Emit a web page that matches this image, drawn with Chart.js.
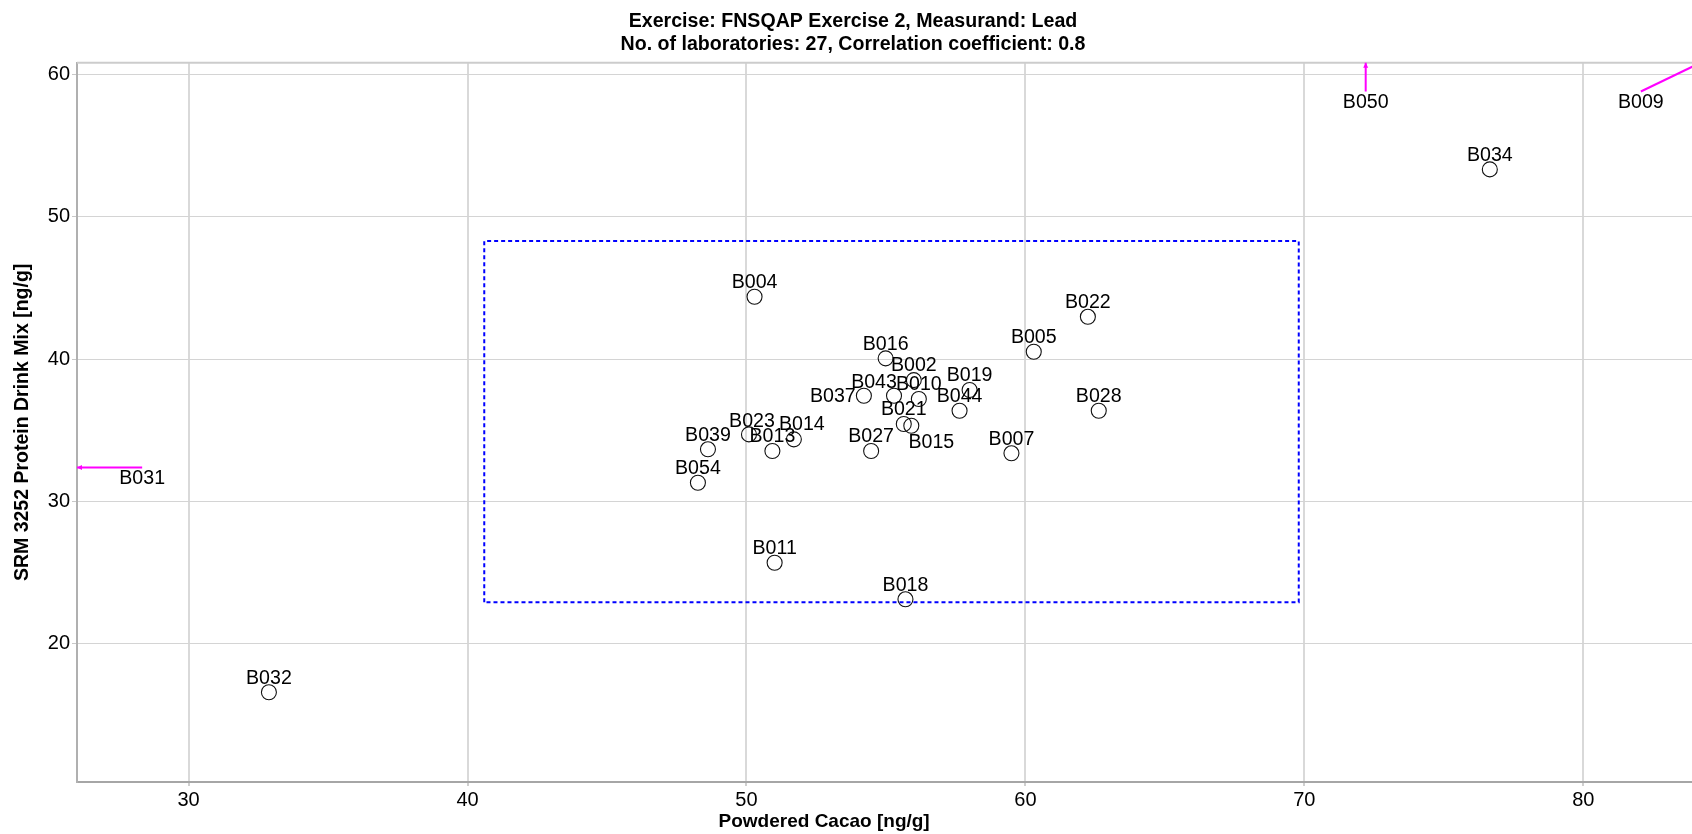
<!DOCTYPE html>
<html>
<head>
<meta charset="utf-8">
<title>FNSQAP Exercise 2 – Lead</title>
<script src="https://cdn.jsdelivr.net/npm/chart.js@4/dist/chart.umd.min.js"></script>
<style>
  html, body { margin: 0; padding: 0; overflow: hidden; background: #fff; }
  #wrap { width: 1706px; height: 834px; }
</style>
</head>
<body>
<div id="wrap"><canvas id="chart" width="1706" height="834"></canvas></div>
<script>
// Laboratory results: Powdered Cacao vs. SRM 3252 Protein Drink Mix (ng/g)
const labs = ['B002','B004','B005','B007','B009','B010','B011','B013','B014','B015','B016','B018','B019','B021',
              'B022','B023','B027','B028','B031','B032','B034','B037','B039','B043','B044','B050','B054'];
const cacao = [56.0, 50.29, 60.3, 59.5, 96.0, 56.18, 51.01, 50.93, 51.7, 55.91, 54.99, 55.7, 58.0, 55.64,
               62.24, 50.09, 54.47, 62.63, 12.5, 32.88, 76.65, 54.21, 48.62, 55.29, 57.64, 72.2, 48.26];
const protein = [38.52, 44.38, 40.51, 33.37, 72.0, 37.19, 25.67, 33.53, 34.35, 35.31, 40.05, 23.1, 37.82, 35.43,
                 42.97, 34.7, 33.53, 36.36, 32.37, 16.56, 53.34, 37.42, 33.65, 37.42, 36.36, 78.0, 31.3];

// Acceptance region (dashed rectangle), traced corner by corner
const boxCacao = [40.6, 40.6, 69.8, 69.8, 40.6];
const boxProtein = [22.9, 48.3, 48.3, 22.9, 22.9];

// Axis ticks
const xTickValues = [30, 40, 50, 60, 70, 80];
const yTickValues = [20, 30, 40, 50, 60];

const titleLines = ['Exercise: FNSQAP Exercise 2, Measurand: Lead',
                    'No. of laboratories: 27, Correlation coefficient: 0.8'];
const xTitle = 'Powdered Cacao [ng/g]';
const yTitle = 'SRM 3252 Protein Drink Mix [ng/g]';

// Visible axis window
const X_MIN = 26.0, X_MAX = 84.4;
const Y_MIN = 10.25, Y_MAX = 60.84;
// Off-scale results are pinned this fraction inside the window and get an arrow
const EDGE_INSET = 0.04;

const FONT = '"Liberation Sans", Arial, sans-serif';
// Label offsets (px from the marker centre) where the default spot above would collide
const labelNudge = { B015: [20, 17], B043: [-20, -13], B037: [-31, 1], B014: [8, -15], B023: [3, -13] };
const DEFAULT_NUDGE = [0, -14];

const inWindow = (x, y) => x >= X_MIN && x <= X_MAX && y >= Y_MIN && y <= Y_MAX;

const points = [];
labs.forEach((lab, i) => {
  if (inWindow(cacao[i], protein[i])) points.push({ x: cacao[i], y: protein[i], lab });
});
const boxPoints = boxCacao.map((x, i) => ({ x, y: boxProtein[i] }));

// Thin frame line along the top of the plot area
const topFrame = {
  id: 'topFrame',
  beforeDatasetsDraw(chart) {
    const { ctx, chartArea: a } = chart;
    ctx.save();
    ctx.strokeStyle = '#cccccc';
    ctx.lineWidth = 2;
    ctx.beginPath();
    ctx.moveTo(a.left, a.top);
    ctx.lineTo(a.right, a.top);
    ctx.stroke();
    ctx.restore();
  }
};

// Lab codes next to markers, plus arrows for results outside the window
const labLabels = {
  id: 'labLabels',
  afterDatasetsDraw(chart) {
    const { ctx, chartArea: a } = chart;
    const xs = chart.scales.x, ys = chart.scales.y;
    ctx.save();
    ctx.font = '19.6px ' + FONT;
    ctx.textAlign = 'center';
    ctx.textBaseline = 'middle';
    labs.forEach((lab, i) => {
      const x = cacao[i], y = protein[i];
      if (inWindow(x, y)) {
        const n = labelNudge[lab] || DEFAULT_NUDGE;
        ctx.fillStyle = '#000';
        ctx.fillText(lab, xs.getPixelForValue(x) + n[0], ys.getPixelForValue(y) + n[1]);
        return;
      }
      const mx = (X_MAX - X_MIN) * EDGE_INSET, my = (Y_MAX - Y_MIN) * EDGE_INSET;
      const cx = x < X_MIN ? X_MIN + mx : (x > X_MAX ? X_MAX - mx : x);
      const cy = y < Y_MIN ? Y_MIN + my : (y > Y_MAX ? Y_MAX - my : y);
      const p0x = xs.getPixelForValue(cx), p0y = ys.getPixelForValue(cy);
      const dx = xs.getPixelForValue(x) - p0x, dy = ys.getPixelForValue(y) - p0y;
      let t = Infinity;
      if (dx < 0) t = Math.min(t, (a.left - p0x) / dx);
      if (dx > 0) t = Math.min(t, (a.right - p0x) / dx);
      if (dy < 0) t = Math.min(t, (a.top - p0y) / dy);
      if (dy > 0) t = Math.min(t, (a.bottom - p0y) / dy);
      const ex = p0x + t * dx, ey = p0y + t * dy;
      const ang = Math.atan2(dy, dx);
      ctx.strokeStyle = '#ff00ff';
      ctx.fillStyle = '#ff00ff';
      ctx.lineWidth = 2;
      ctx.beginPath();
      ctx.moveTo(p0x, p0y);
      ctx.lineTo(ex, ey);
      ctx.stroke();
      const hl = 5, hw = 2.5;
      ctx.beginPath();
      ctx.moveTo(ex, ey);
      ctx.lineTo(ex - hl * Math.cos(ang) + hw * Math.sin(ang), ey - hl * Math.sin(ang) - hw * Math.cos(ang));
      ctx.lineTo(ex - hl * Math.cos(ang) - hw * Math.sin(ang), ey - hl * Math.sin(ang) + hw * Math.cos(ang));
      ctx.closePath();
      ctx.fill();
      ctx.fillStyle = '#000';
      ctx.fillText(lab, p0x, p0y + 11);
    });
    ctx.restore();
  }
};

// X axis title, centred under the span from the axis origin to the last tick
const xAxisTitle = {
  id: 'xAxisTitle',
  afterDraw(chart) {
    const { ctx, chartArea: a } = chart;
    const xs = chart.scales.x;
    const cx = (a.left + xs.getPixelForValue(xTickValues[xTickValues.length - 1])) / 2 - 6;
    ctx.save();
    ctx.font = 'bold 19px ' + FONT;
    ctx.fillStyle = '#000';
    ctx.textAlign = 'center';
    ctx.textBaseline = 'middle';
    ctx.fillText(xTitle, cx, a.bottom + 40);
    ctx.restore();
  }
};

new Chart(document.getElementById('chart'), {
  type: 'scatter',
  data: {
    datasets: [
      {
        label: 'Laboratories',
        data: points,
        pointStyle: 'circle',
        pointRadius: 7.5,
        pointHoverRadius: 7.5,
        borderWidth: 1.1,
        borderColor: '#111111',
        backgroundColor: 'rgba(255,255,255,0)',
        order: 1
      },
      {
        type: 'line',
        label: 'Acceptance region',
        data: boxPoints,
        borderColor: '#0000ff',
        borderWidth: 2,
        borderDash: [4, 3],
        pointRadius: 0,
        fill: false,
        tension: 0,
        order: 2
      }
    ]
  },
  options: {
    responsive: false,
    animation: false,
    layout: { padding: 0, autoPadding: false },
    plugins: {
      legend: { display: false },
      tooltip: { enabled: false },
      title: {
        display: true,
        text: titleLines,
        color: '#000',
        font: { family: FONT, size: 19.6, weight: 'bold', lineHeight: 1.19 },
        padding: { top: 10, bottom: 6.1 }
      }
    },
    scales: {
      x: {
        type: 'linear',
        min: X_MIN,
        max: X_MAX,
        afterBuildTicks: s => { s.ticks = xTickValues.map(v => ({ value: v })); },
        afterFit: s => { s.height = 52; s.paddingLeft = 0; s.paddingRight = 0; },
        ticks: {
          color: '#000',
          font: { family: FONT, size: 20 },
          padding: 2,
          autoSkip: false,
          maxRotation: 0,
          callback: v => String(v)
        },
        grid: { color: '#d9d9d9', lineWidth: 2, tickLength: 4, tickColor: '#cfcfcf', tickWidth: 2 },
        border: { display: true, color: '#a6a6a6', width: 2 }
      },
      y: {
        type: 'linear',
        min: Y_MIN,
        max: Y_MAX,
        afterBuildTicks: s => { s.ticks = yTickValues.map(v => ({ value: v })); },
        afterFit: s => { s.width = 77; },
        ticks: {
          color: '#000',
          font: { family: FONT, size: 20 },
          padding: 2,
          autoSkip: false,
          callback: v => String(v)
        },
        grid: { color: '#d4d4d4', lineWidth: 1, tickLength: 5, tickColor: '#c8c8c8', tickWidth: 1 },
        border: { display: true, color: '#b0b0b0', width: 2 },
        title: {
          display: true,
          text: yTitle,
          color: '#000',
          font: { family: FONT, size: 19.5, weight: 'bold' },
          padding: { top: 11, bottom: 0 }
        }
      }
    }
  },
  plugins: [topFrame, labLabels, xAxisTitle]
});
</script>
</body>
</html>
